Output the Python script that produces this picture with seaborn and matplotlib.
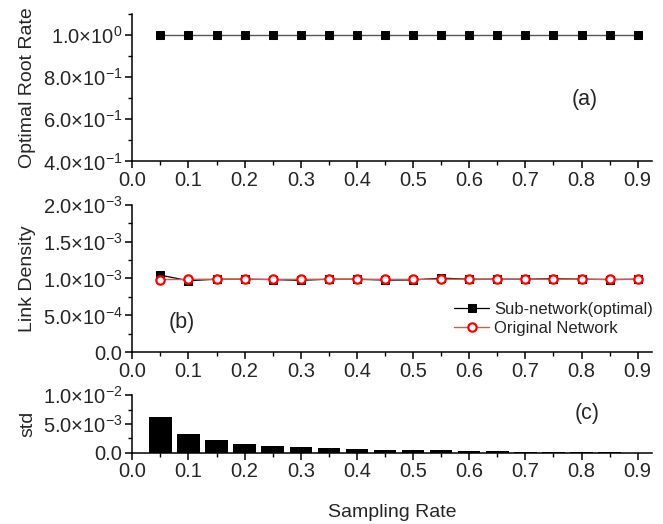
import numpy as np
import pandas as pd
import matplotlib
matplotlib.use("Agg")
import matplotlib.pyplot as plt
from matplotlib.ticker import FixedLocator, FixedFormatter, MultipleLocator
import seaborn as sns

# ---------------- data ----------------
sampling_rate = [0.05, 0.10, 0.15, 0.20, 0.25, 0.30, 0.35, 0.40, 0.45,
                 0.50, 0.55, 0.60, 0.65, 0.70, 0.75, 0.80, 0.85, 0.90]
optimal_root_rate = [1.0] * 18
link_density_sub = [1.045e-3, 0.970e-3, 0.990e-3, 0.990e-3, 0.985e-3, 0.975e-3,
                    0.990e-3, 0.990e-3, 0.978e-3, 0.980e-3, 1.005e-3, 0.990e-3,
                    0.990e-3, 0.990e-3, 0.998e-3, 0.990e-3, 0.985e-3, 0.990e-3]
link_density_orig = [0.985e-3, 0.988e-3, 0.990e-3, 0.990e-3, 0.988e-3, 0.988e-3,
                     0.990e-3, 0.990e-3, 0.988e-3, 0.988e-3, 0.990e-3, 0.990e-3,
                     0.990e-3, 0.990e-3, 0.990e-3, 0.990e-3, 0.988e-3, 0.988e-3]
std_values = [6.2e-3, 3.2e-3, 2.15e-3, 1.57e-3, 1.22e-3, 0.99e-3, 0.82e-3, 0.64e-3,
              0.55e-3, 0.47e-3, 0.40e-3, 0.33e-3, 0.27e-3, 0.21e-3, 0.16e-3,
              0.11e-3, 0.07e-3, 0.04e-3]

x_ticks = [0.0, 0.1, 0.2, 0.3, 0.4, 0.5, 0.6, 0.7, 0.8, 0.9]
x_tick_labels = ["0.0", "0.1", "0.2", "0.3", "0.4", "0.5", "0.6", "0.7", "0.8", "0.9"]
a_ticks = [0.4, 0.6, 0.8, 1.0]
a_tick_labels = ["4.0×10$^{-1}$", "6.0×10$^{-1}$", "8.0×10$^{-1}$", "1.0×10$^{0}$"]
b_ticks = [0.0, 0.5e-3, 1.0e-3, 1.5e-3, 2.0e-3]
b_tick_labels = ["0.0", "5.0×10$^{-4}$", "1.0×10$^{-3}$", "1.5×10$^{-3}$", "2.0×10$^{-3}$"]
c_ticks = [0.0, 5e-3, 1e-2]
c_tick_labels = ["0.0", "5.0×10$^{-3}$", "1.0×10$^{-2}$"]

# ---------------- style ----------------
sns.set_style("ticks")
plt.rcParams["font.family"] = ["Liberation Sans", "DejaVu Sans"]
plt.rcParams["mathtext.fontset"] = "custom"
plt.rcParams["mathtext.rm"] = "Liberation Sans"
plt.rcParams["mathtext.it"] = "Liberation Sans:italic"
plt.rcParams["mathtext.bf"] = "Liberation Sans:bold"
plt.rcParams["mathtext.default"] = "regular"
plt.rcParams["axes.linewidth"] = 1.1
plt.rcParams["xtick.direction"] = "out"
plt.rcParams["ytick.direction"] = "out"

FS = 14
TFS = 14.5
AFS = 15.5

fig = plt.figure(figsize=(6.63, 5.24), dpi=100)
left, width = 0.1996, 0.7834
ax_a = fig.add_axes([left, 0.692, width, 0.281])
ax_b = fig.add_axes([left, 0.3277, width, 0.2817])
ax_c = fig.add_axes([left, 0.136, width, 0.1096])

df = pd.DataFrame({
    "rate": sampling_rate,
    "root": optimal_root_rate,
    "sub": link_density_sub,
    "orig": link_density_orig,
    "std": std_values,
})

# (a)
sns.lineplot(data=df, x="rate", y="root", ax=ax_a, color="#555555", linewidth=1.0,
             marker="s", markersize=6, markerfacecolor="black", markeredgecolor="black")
ax_a.set_ylim(0.4, 1.1)
ax_a.yaxis.set_major_locator(FixedLocator(a_ticks))
ax_a.yaxis.set_major_formatter(FixedFormatter(a_tick_labels))
ax_a.yaxis.set_minor_locator(MultipleLocator(0.1))
ax_a.set_ylabel("Optimal Root Rate", fontsize=FS)
ax_a.text(0.87, 0.42, "(a)", transform=ax_a.transAxes, fontsize=AFS, ha="center", va="center")

# (b)
sns.lineplot(data=df, x="rate", y="sub", ax=ax_b, color="black", linewidth=0.9,
             marker="s", markersize=6, markerfacecolor="black", markeredgecolor="black",
             label="Sub-network(optimal)")
sns.lineplot(data=df, x="rate", y="orig", ax=ax_b, color="#ff4a3a", linewidth=1.0,
             marker="o", markersize=6, markerfacecolor="white", markeredgecolor="red",
             markeredgewidth=1.6, label="Original Network")
ax_b.set_ylim(0.0, 2.0e-3)
ax_b.yaxis.set_major_locator(FixedLocator(b_ticks))
ax_b.yaxis.set_major_formatter(FixedFormatter(b_tick_labels))
ax_b.yaxis.set_minor_locator(MultipleLocator(0.25e-3))
ax_b.set_ylabel("Link Density", fontsize=FS)
ax_b.text(0.096, 0.2, "(b)", transform=ax_b.transAxes, fontsize=AFS, ha="center", va="center")
ax_b.legend(loc="lower right", bbox_to_anchor=(1.025, 0.03), frameon=False, fontsize=12,
            handlelength=2.1, handletextpad=0.3, labelspacing=0.25, borderpad=0.2)

# (c)
sns.barplot(data=df, x="rate", y="std", ax=ax_c, native_scale=True, width=0.8,
            color="black", edgecolor="black", linewidth=0, saturation=1)
ax_c.set_ylim(0.0, 1.0e-2)
ax_c.yaxis.set_major_locator(FixedLocator(c_ticks))
ax_c.yaxis.set_major_formatter(FixedFormatter(c_tick_labels))
ax_c.yaxis.set_minor_locator(MultipleLocator(2.5e-3))
ax_c.set_ylabel("std", fontsize=FS)
ax_c.text(0.875, 0.68, "(c)", transform=ax_c.transAxes, fontsize=AFS, ha="center", va="center")
ax_c.set_xlabel("Sampling Rate", fontsize=FS, labelpad=16)

for ax in (ax_a, ax_b, ax_c):
    ax.set_xlim(0.0, 0.925)
    ax.xaxis.set_major_locator(FixedLocator(x_ticks))
    ax.xaxis.set_major_formatter(FixedFormatter(x_tick_labels))
    ax.xaxis.set_minor_locator(MultipleLocator(0.05))
    ax.tick_params(which="major", length=5, width=1.1, labelsize=TFS, pad=2, color="black")
    ax.tick_params(which="minor", length=3, width=1.0, color="black")
    sns.despine(ax=ax)
    ax.spines["left"].set_color("black")
    ax.spines["bottom"].set_color("black")
    ax.yaxis.set_label_coords(-0.185, 0.5)
    if ax is not ax_c:
        ax.set_xlabel("")

fig.savefig("out.png", dpi=100)
